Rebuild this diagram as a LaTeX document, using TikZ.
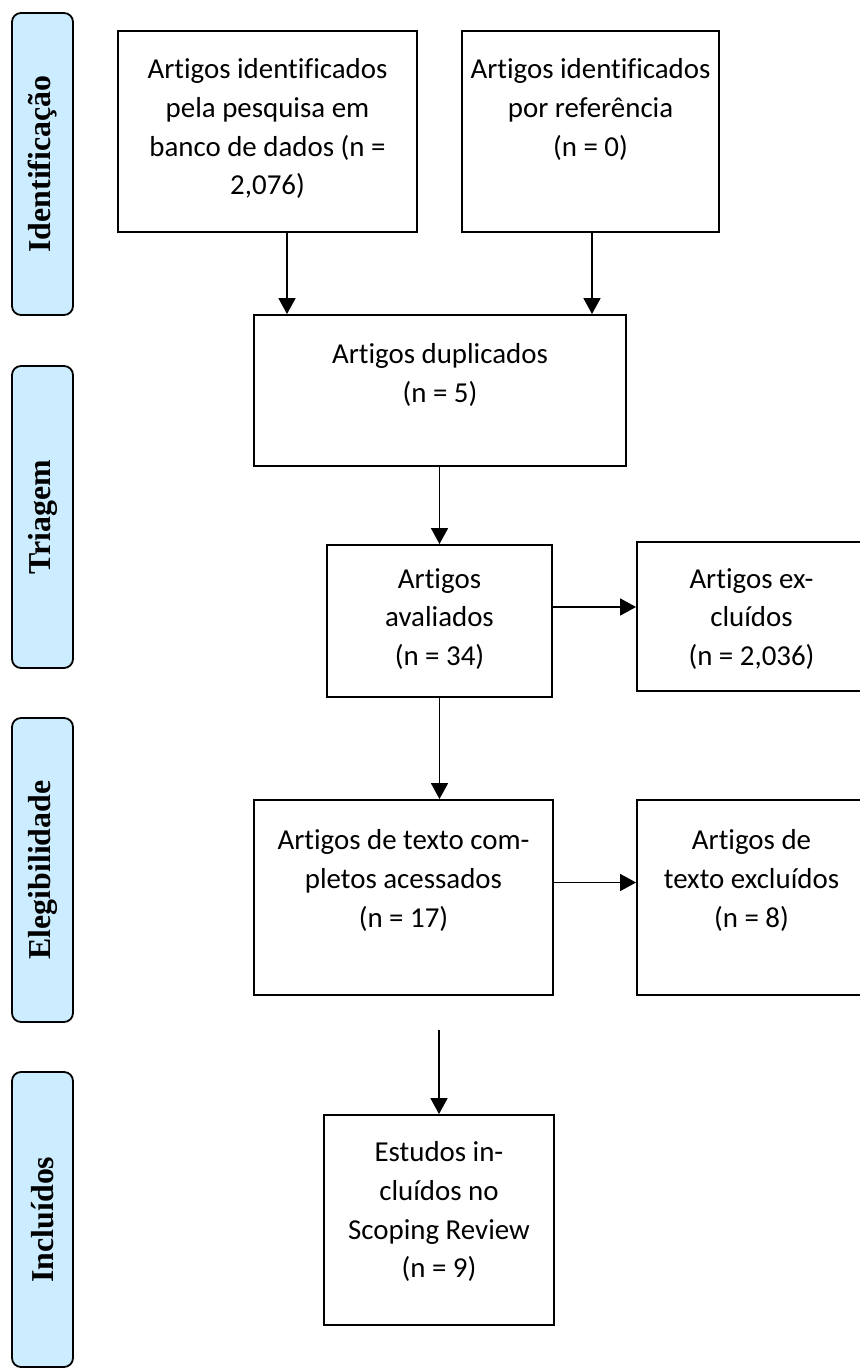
\documentclass[tikz,border=0pt]{standalone}
\usepackage{fontspec}
\setmainfont{Carlito}[Ligatures=NoCommon]
\newfontfamily\phasefont{Liberation Serif}
\usetikzlibrary{arrows.meta,positioning}
\definecolor{phaseblue}{HTML}{CCECFF}

\begin{document}
\begin{tikzpicture}[x=1bp,y=-1bp,
  phase/.style={draw,line width=1.8bp,fill=phaseblue,rounded corners=9bp,
    minimum height=61bp,inner sep=0pt,rotate=90,
    font=\phasefont\bfseries\fontsize{32}{38}\selectfont},
  box/.style={draw,line width=1.9bp,inner sep=0pt},
  txt/.style={align=center,inner sep=0pt,font=\fontsize{29}{39}\selectfont},
  arr/.style={line width=1.7bp,-{Triangle[length=16bp,width=17bp]}}]
  \useasboundingbox (0,0) rectangle (859,1369);

  % phase bars on the left
  \node[phase,minimum width=302bp] (identphase) at (42.5,164) {Identificação};
  \node[phase,minimum width=302bp] (triphase) at (42.5,517) {Triagem};
  \node[phase,minimum width=304bp] (elephase) at (42.5,870) {Elegibilidade};
  \node[phase,minimum width=295bp] (incphase) at (42.5,1219.5) {Incluídos};

  % boxes
  \node[box,minimum width=299bp,minimum height=201bp] (ident) at (267.5,131.5) {};
  \node[box,minimum width=257bp,minimum height=201bp] (ref) at (590.5,131.5) {};
  \node[box,minimum width=372bp,minimum height=151bp] (dup) at (440,390.5) {};
  \node[box,minimum width=225bp,minimum height=152bp] (eval) at (439.5,621) {};
  \node[box,minimum width=229bp,minimum height=149bp] (excl) at (751.5,616.5) {};
  \node[box,minimum width=299bp,minimum height=195bp] (full) at (403.5,897.5) {};
  \node[box,minimum width=229bp,minimum height=195bp] (fullexcl) at (751.5,897.5) {};
  \node[box,minimum width=230bp,minimum height=210bp] (incl) at (439,1220) {};

  % texts
  \node[txt,below=28bp of ident.north] (identtxt)
    {Artigos identificados\\pela pesquisa em\\banco de dados (n =\\2,076)};
  \node[txt,below=28bp of ref.north] (reftxt)
    {Artigos identificados\\por referência\\(n = 0)};
  \node[txt,below=29bp of dup.north] (duptxt) {Artigos duplicados\\(n = 5)};
  \node[txt,below=24bp of eval.north] (evaltxt) {Artigos\\avaliados\\(n = 34)};
  \node[txt,below=27bp of excl.north] (excltxt) {Artigos ex-\\cluídos\\(n = 2,036)};
  \node[txt,below=30bp of full.north] (fulltxt)
    {Artigos de texto com-\\pletos acessados\\(n = 17)};
  \node[txt,below=30bp of fullexcl.north] (fullexcltxt)
    {Artigos de\\texto excluídos\\(n = 8)};
  \node[txt,below=27bp of incl.north] (incltxt)
    {Estudos in-\\cluídos no\\Scoping Review\\(n = 9)};

  % connectors
  \coordinate (fullend) at (439,1030);
  \draw[arr] ([xshift=19.5bp]ident.south) -- ([xshift=19.5bp]ident.south |- dup.north);
  \draw[arr] ([xshift=1.5bp]ref.south) -- ([xshift=1.5bp]ref.south |- dup.north);
  \draw[arr] (dup.south -| eval) -- (eval.north);
  \draw[arr] ([yshift=14bp]eval.east) -- ([yshift=14bp]eval.east -| excl.west);
  \draw[arr] (eval.south) -- (eval.south |- full.north);
  \draw[arr] ([yshift=15bp]full.east) -- ([yshift=15bp]full.east -| fullexcl.west);
  \draw[arr] (fullend) -- (incl.north);
\end{tikzpicture}
\end{document}
